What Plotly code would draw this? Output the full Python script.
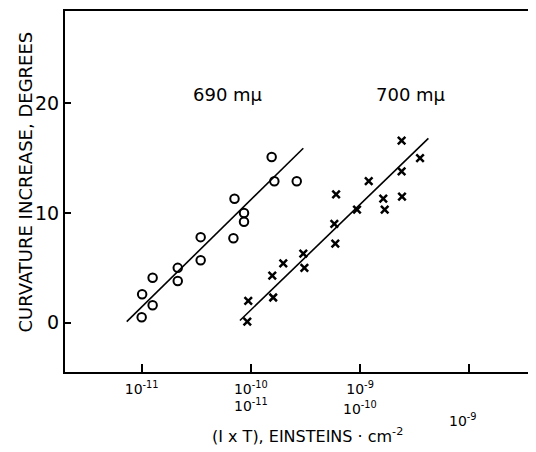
import numpy as np
import plotly.graph_objects as go

# 690 mu data (circles)
c690_x = [1.00e-11, 1.01e-11, 1.26e-11, 1.26e-11, 2.14e-11, 2.14e-11, 3.47e-11, 3.47e-11,
          7.08e-11, 6.92e-11, 8.65e-11, 8.65e-11, 1.55e-10, 1.64e-10, 2.63e-10]
c690_y = [0.5, 2.6, 4.1, 1.6, 5.0, 3.8, 7.8, 5.7, 11.3, 7.7, 10.0, 9.2, 15.1, 12.9, 12.9]

# 700 mu data (crosses)
x700_x = [9.27e-11, 9.46e-11, 1.60e-10, 1.57e-10, 1.98e-10, 3.02e-10, 3.09e-10, 5.93e-10,
          5.81e-10, 6.03e-10, 9.37e-10, 1.20e-9, 1.63e-9, 1.68e-9, 2.40e-9, 2.40e-9,
          2.42e-9, 3.54e-9]
x700_y = [0.1, 2.0, 2.3, 4.3, 5.4, 6.3, 5.0, 7.2, 9.0, 11.7, 10.3, 12.9, 11.3, 10.3,
          16.6, 13.8, 11.5, 15.0]

# fitted lines (end points)
fit690_x = [7.3e-12, 3.02e-10]
fit690_y = [0.1, 15.9]
fit700_x = [7.94e-11, 4.22e-9]
fit700_y = [0.2, 16.8]

# series labels
label_text = ["690 mμ", "700 mμ"]
label_x = [6.17e-11, 2.92e-9]
label_y = [20.8, 20.8]

# tick labels
xtick_vals = [1e-11, 1e-10, 1e-9, 1e-8]
xtick_text = ["10<sup>-11</sup>", "10<sup>-10</sup>", "10<sup>-9</sup>", ""]
row2_vals = [1e-10, 1e-9, 8.75e-9]
row2_text = ["10<sup>-11</sup>", "10<sup>-10</sup>", "10<sup>-9</sup>"]
row2_shift = [-33, -36, -48]
ytick_vals = [0, 10, 20]

FONT = "DejaVu Sans"

# page offset (browser body margin)
OFF = 8
L, T = 65 - OFF, 11 - OFF
W, H = 536 - 2 * OFF, 452 - OFF
PW = W - L
PH = 372 - 11
XR = -11 + (OFF + W - 141.7) / 109.2

fig = go.Figure()
fig.add_trace(go.Scatter(x=fit690_x, y=fit690_y, mode="lines",
                         line=dict(color="black", width=1.6), showlegend=False))
fig.add_trace(go.Scatter(x=fit700_x, y=fit700_y, mode="lines",
                         line=dict(color="black", width=1.6), showlegend=False))
fig.add_trace(go.Scatter(x=c690_x, y=c690_y, mode="markers",
                         marker=dict(symbol="circle-open", size=8.5, color="black",
                                     line=dict(width=2, color="black")),
                         showlegend=False))
fig.add_trace(go.Scatter(x=x700_x, y=x700_y, mode="markers",
                         marker=dict(symbol="x-thin", size=7.5, color="black",
                                     line=dict(width=2.5, color="black")),
                         showlegend=False))

for t, lx, ly in zip(label_text, label_x, label_y):
    fig.add_annotation(x=np.log10(lx), y=ly, text=t, showarrow=False,
                       font=dict(family=FONT, size=18, color="black"))

for v, t, s in zip(row2_vals, row2_text, row2_shift):
    fig.add_annotation(x=np.log10(v), xref="x", y=0, yref="paper", yanchor="middle",
                       yshift=s, text=t, showarrow=False,
                       font=dict(family=FONT, size=14, color="black"))

fig.add_annotation(x=(307 - 65) / PW, xref="paper", y=0, yref="paper",
                   text="(I x T), EINSTEINS · cm<sup>-2</sup>", showarrow=False,
                   yanchor="middle", yshift=-63,
                   font=dict(family=FONT, size=16, color="black"))

fig.add_annotation(x=(25 - 65) / PW, xref="paper", y=0.5, yref="paper", textangle=-90,
                   text="CURVATURE INCREASE, DEGREES", showarrow=False,
                   xanchor="center", yanchor="middle", yshift=9,
                   font=dict(family=FONT, size=18, color="black"))

fig.update_xaxes(type="log", range=[-11.702, XR], tickvals=xtick_vals,
                 ticktext=xtick_text, ticks="inside", ticklen=8, tickwidth=1.5,
                 tickcolor="black", showline=True, mirror=True, linecolor="black",
                 linewidth=2, showgrid=False, zeroline=False, ticklabelstandoff=3,
                 tickfont=dict(family=FONT, size=14, color="black"))
fig.update_yaxes(range=[-4.49, 28.41], tickvals=ytick_vals, ticks="inside",
                 ticklen=6, tickwidth=1.5, tickcolor="black", showline=True,
                 linecolor="black", linewidth=2, showgrid=False, zeroline=False,
                 tickfont=dict(family=FONT, size=19, color="black"))

fig.update_layout(width=W, height=H,
                  margin=dict(l=L, r=0, t=T, b=H - T - PH),
                  plot_bgcolor="white", paper_bgcolor="white",
                  font=dict(family=FONT, color="black"))

fig.write_html("out.html")
